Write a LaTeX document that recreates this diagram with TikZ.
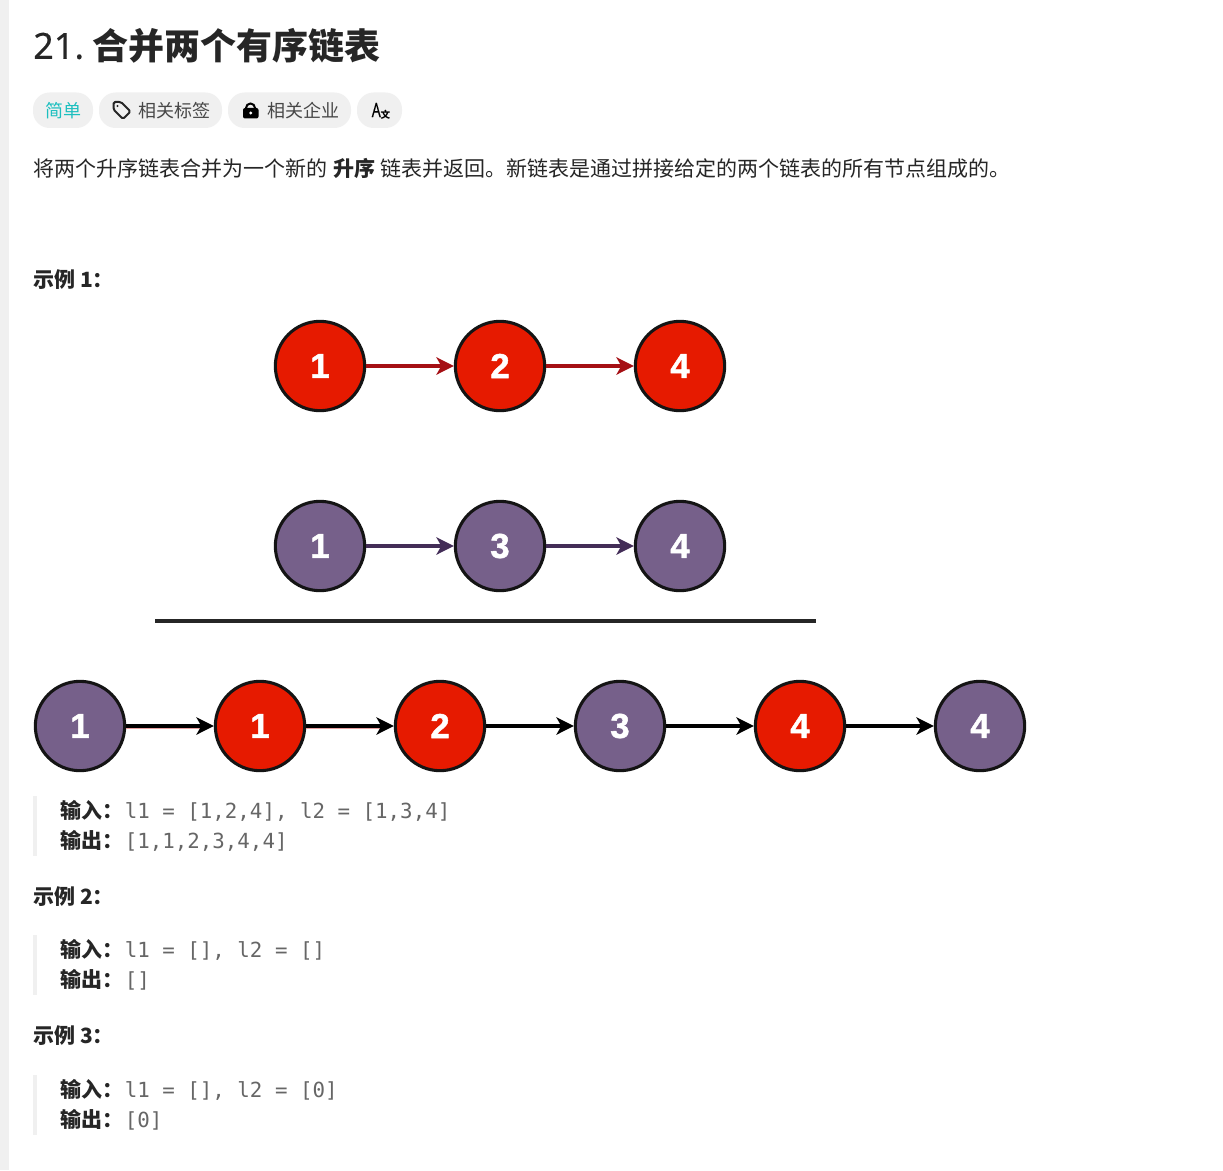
\documentclass[tikz,border=0pt]{standalone}
\usepackage{fontspec}
\setmainfont{Noto Sans CJK SC}
\newfontfamily\latinmed[FakeBold=0.3]{Noto Sans}
\newfontfamily\monofam{DejaVu Sans Mono}
\newfontfamily\digitfam[FakeBold=1.4]{Liberation Sans Bold}
\usetikzlibrary{arrows.meta}
\definecolor{pillbg}{HTML}{F0F0F0}
\definecolor{sidebar}{HTML}{F0F0F0}
\definecolor{inktext}{HTML}{262626}
\definecolor{codegrey}{HTML}{666666}
\definecolor{easyteal}{HTML}{1CBFBF}
\definecolor{nodered}{HTML}{E61A00}
\definecolor{nodepurple}{HTML}{76608A}
\definecolor{linkred}{HTML}{A50F14}
\definecolor{linkpurple}{HTML}{432D57}
\definecolor{linkpink}{HTML}{E8A0A0}
\tikzset{
  x=0.75pt,y=-0.75pt,
  listnode/.style={circle,draw=black!92,line width=2.3pt,minimum size=67pt,inner sep=0pt,text=white,font=\digitfam\fontsize{26}{26}\selectfont},
  rednode/.style={listnode,fill=nodered},
  purplenode/.style={listnode,fill=nodepurple},
  linkbase/.style={line width=2.3pt,-{Stealth[length=13pt,width=13pt,inset=3.6pt]}},
  redlink/.style={linkbase,draw=linkred},
  purplelink/.style={linkbase,draw=linkpurple},
  blacklink/.style={linkbase,draw=black},
  pinkedge/.style={line width=1.6pt,draw=linkpink},
  txt/.style={anchor=west,inner sep=0pt,text=inktext},
  body/.style={txt,font=\fontsize{15.75}{15.75}\selectfont},
  bodybold/.style={txt,font=\fontsize{15.75}{15.75}\selectfont\bfseries},
  pill/.style={fill=pillbg,rounded corners=12.5pt},
  pilltxt/.style={txt,text=inktext!85,font=\fontsize{13.5}{13.5}\selectfont},
  code/.style={anchor=west,inner sep=0pt,text=codegrey,font=\monofam\fontsize{15.6}{15.6}\selectfont},
  quotebar/.style={fill=pillbg}
}
\newcommand{\dg}[1]{\raisebox{-1pt}{#1}}
\begin{document}
\begin{tikzpicture}
\useasboundingbox (0,0) rectangle (1223,1170);
\fill[white] (0,0) rectangle (1223,1170);
\fill[sidebar] (0,0) rectangle (9,1170);
% title
\node[txt,font=\latinmed\fontsize{27}{27}\selectfont] (num) at (33,46) {21.};
\node[txt,font=\fontsize{27}{27}\selectfont\bfseries] (title) at (92.5,46) {合并两个有序链表};
% pills
\fill[pill] (33,92.5) rectangle (93,128);
\fill[pill] (99,92.5) rectangle (222,128);
\fill[pill] (228,92.5) rectangle (351,128);
\fill[pill] (357,92.5) rectangle (402,128);
\node[pilltxt,text=easyteal] (easy) at (45,110.5) {简单};
\node[pilltxt] (tags) at (138,110.5) {相关标签};
\node[pilltxt] (comp) at (267,110.5) {相关企业};
% tag icon
\draw[line width=1.5pt,draw=inktext,line join=round,rounded corners=1.2pt] (113.5,102) -- (121,102) -- (130.5,111.5) -- (123,119) -- (113.5,109.5) -- cycle;
\fill[inktext] (117.5,106) circle[radius=1.2];
% lock icon
\draw[line width=1.5pt,draw=black] (246,109) -- (246,108) arc[start angle=180,end angle=360,radius=4.5] -- (255,109);
\fill[black,rounded corners=1.5pt] (243,108) rectangle (258.5,118.5);
\fill[white] (250.7,113) circle[radius=1.7];
% translate icon
\node[anchor=west,inner sep=0pt,text=black,font=\latinmed\fontsize{14.7}{15}\selectfont] (aicon) at (371.5,110) {\scalebox{0.72}[1]{A}};
\node[anchor=center,inner sep=0pt,text=black,font=\fontsize{7.2}{8}\selectfont\bfseries] (xicon) at (385.5,114.5) {文};
% description
\node[body] (d1) at (33,168.5) {将两个升序链表合并为一个新的};
\node[bodybold] (d2) at (333,168.5) {升序};
\node[body] (d3) at (380.5,168.5) {链表并返回。新链表是通过拼接给定的两个链表的所有节点组成的。};
% example 1
\node[bodybold] (ex1) at (33,279.5) {示例 1：};
% list 1
\node[rednode] (a1) at (320,366) {\dg{1}};
\node[rednode] (a2) at (500,366) {\dg{2}};
\node[rednode] (a3) at (680,366) {\dg{4}};
\draw[redlink] (a1) -- (a2);
\draw[redlink] (a2) -- (a3);
% list 2
\node[purplenode] (b1) at (320,546) {\dg{1}};
\node[purplenode] (b2) at (500,546) {\dg{3}};
\node[purplenode] (b3) at (680,546) {\dg{4}};
\draw[purplelink] (b1) -- (b2);
\draw[purplelink] (b2) -- (b3);
% rule
\coordinate (ruleL) at (155,621);
\coordinate (ruleR) at (816,621);
\draw[line width=2.6pt,draw=inktext] (ruleL) -- (ruleR);
% merged
\node[purplenode] (c1) at (80,726) {\dg{1}};
\node[rednode] (c2) at (260,726) {\dg{1}};
\node[rednode] (c3) at (440,726) {\dg{2}};
\node[purplenode] (c4) at (620,726) {\dg{3}};
\node[rednode] (c5) at (800,726) {\dg{4}};
\node[purplenode] (c6) at (980,726) {\dg{4}};
\draw[pinkedge] ([yshift=-1.3pt]c1.east) -- ([xshift=-8pt,yshift=-1.3pt]c2.west);
\draw[pinkedge] ([yshift=-1.3pt]c2.east) -- ([xshift=-8pt,yshift=-1.3pt]c3.west);
\draw[blacklink] (c1) -- (c2);
\draw[blacklink] (c2) -- (c3);
\draw[blacklink] (c3) -- (c4);
\draw[blacklink] (c4) -- (c5);
\draw[blacklink] (c5) -- (c6);
% example 1 code
\fill[quotebar] (33,796) rectangle (37,856);
\node[bodybold] (i1) at (60,810.5) {输入：};
\node[code] (i1v) at (124.5,811.7) {l1 = [1,2,4], l2 = [1,3,4]};
\node[bodybold] (o1) at (60,840.5) {输出：};
\node[code] (o1v) at (124.5,841.7) {[1,1,2,3,4,4]};
% example 2
\node[bodybold] (ex2) at (33,896.5) {示例 2：};
\fill[quotebar] (33,935) rectangle (37,995);
\node[bodybold] (i2) at (60,949.5) {输入：};
\node[code] (i2v) at (124.5,950.7) {l1 = [], l2 = []};
\node[bodybold] (o2) at (60,979.5) {输出：};
\node[code] (o2v) at (124.5,980.7) {[]};
% example 3
\node[bodybold] (ex3) at (33,1035.5) {示例 3：};
\fill[quotebar] (33,1075) rectangle (37,1135);
\node[bodybold] (i3) at (60,1089.5) {输入：};
\node[code] (i3v) at (124.5,1090.7) {l1 = [], l2 = [0]};
\node[bodybold] (o3) at (60,1119.5) {输出：};
\node[code] (o3v) at (124.5,1120.7) {[0]};
\end{tikzpicture}
\end{document}
